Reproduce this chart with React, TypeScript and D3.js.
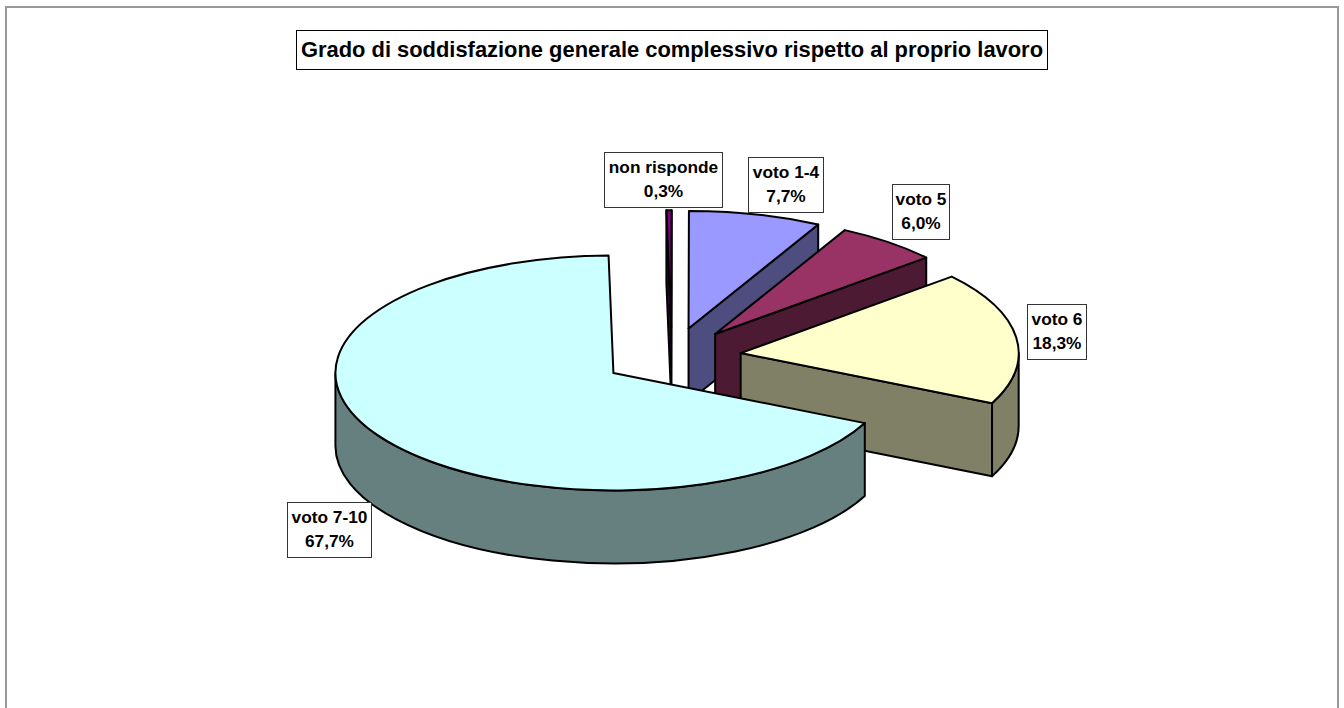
import React, { useEffect, useRef } from 'react';
import * as d3 from 'd3';

const title = 'Grado di soddisfazione generale complessivo rispetto al proprio lavoro';
const categories = ['non risponde', 'voto 1-4', 'voto 5', 'voto 6', 'voto 7-10'];
const percentages = [0.3, 7.7, 6.0, 18.3, 67.7];
const topColors = ['#800080', '#9999FF', '#993366', '#FFFFCC', '#CCFFFF'];
const sideColors = ['#400040', '#4D4D80', '#4D1A33', '#808066', '#668080'];

// label boxes: left, top, width
const labelBoxes = [
  [604, 152, 118],
  [748, 157, 75],
  [892, 184, 57],
  [1027, 304, 59],
  [287, 502, 84],
];
const labelHeight = 55;

const width = 1344;
const height = 708;
const cx = 671.8;
const cy = 357;
const rx = 278;
const ry = 117.5;
const depth = 73;
const explode = 0.25;
const firstAngle = (-1.0 * Math.PI) / 180;

function point(x: number, y: number, a: number, dy = 0) {
  return [x + rx * Math.sin(a), y - ry * Math.cos(a) + dy];
}

function arcTo(x: number, y: number, a0: number, a1: number, dy = 0, sweep = 1) {
  const [ex, ey] = point(x, y, a1, dy);
  const large = Math.abs(a1 - a0) > Math.PI ? 1 : 0;
  return `A${rx},${ry} 0 ${large} ${sweep} ${ex},${ey}`;
}

export default function App() {
  const ref = useRef<SVGSVGElement>(null);

  useEffect(() => {
    const svg = d3.select(ref.current);
    svg.selectAll('*').remove();

    svg.append('rect')
      .attr('x', 6).attr('y', 7)
      .attr('width', 1332).attr('height', 730)
      .attr('fill', '#fff')
      .attr('stroke', '#999').attr('stroke-width', 2);

    const pie = d3.pie<number>().sort(null)
      .startAngle(firstAngle)
      .endAngle(firstAngle + 2 * Math.PI);
    const slices = pie(percentages);

    slices.forEach((d, i) => {
      const mid = (d.startAngle + d.endAngle) / 2;
      const x = cx + explode * rx * Math.sin(mid);
      const y = cy - explode * ry * Math.cos(mid);
      const g = svg.append('g')
        .attr('stroke', '#000').attr('stroke-width', 2).attr('stroke-linejoin', 'round');

      // cut face at the clockwise end of the slice, only when it looks towards us
      const endNorm = ((d.endAngle % (2 * Math.PI)) + 2 * Math.PI) % (2 * Math.PI);
      if (endNorm < Math.PI) {
        const [ex, ey] = point(x, y, d.endAngle);
        g.append('path')
          .attr('d', `M${x},${y}L${ex},${ey}L${ex},${ey + depth}L${x},${y + depth}Z`)
          .attr('fill', sideColors[i]);
      }
      // the thin slice shows its other cut face too
      if (i === 0) {
        const [sx, sy] = point(x, y, d.startAngle);
        g.append('path')
          .attr('d', `M${x},${y}L${sx},${sy}L${sx},${sy + depth}L${x},${y + depth}Z`)
          .attr('fill', sideColors[i]);
      }

      // outer wall, the front half of the ellipse only
      const a0 = Math.max(d.startAngle, Math.PI / 2);
      const a1 = Math.min(d.endAngle, (3 * Math.PI) / 2);
      if (a1 > a0) {
        const [p0x, p0y] = point(x, y, a0);
        const [p1x, p1y] = point(x, y, a1);
        g.append('path')
          .attr('d', `M${p0x},${p0y}${arcTo(x, y, a0, a1)}L${p1x},${p1y + depth}${arcTo(x, y, a1, a0, depth, 0)}Z`)
          .attr('fill', sideColors[i]);
      }

      // top face
      const [sx, sy] = point(x, y, d.startAngle);
      g.append('path')
        .attr('d', `M${x},${y}L${sx},${sy}${arcTo(x, y, d.startAngle, d.endAngle)}Z`)
        .attr('fill', topColors[i]);
    });

    // title
    svg.append('rect')
      .attr('x', 296.5).attr('y', 30.5)
      .attr('width', 751).attr('height', 39)
      .attr('fill', '#fff').attr('stroke', '#000').attr('stroke-width', 1);
    svg.append('text')
      .attr('x', 672).attr('y', 57)
      .attr('text-anchor', 'middle')
      .attr('font-family', '"Liberation Sans", Arial, sans-serif')
      .attr('font-weight', 'bold').attr('font-size', 21.9)
      .attr('fill', '#000')
      .text(title);

    // data labels
    const labels = svg.append('g')
      .attr('font-family', '"Liberation Sans", Arial, sans-serif')
      .attr('font-weight', 'bold').attr('font-size', 17.3)
      .attr('text-anchor', 'middle').attr('fill', '#000');
    categories.forEach((name, i) => {
      const [left, top, w] = labelBoxes[i];
      labels.append('rect')
        .attr('x', left + 0.5).attr('y', top + 0.5)
        .attr('width', w).attr('height', labelHeight)
        .attr('fill', '#fff').attr('stroke', '#333').attr('stroke-width', 1);
      labels.append('text')
        .attr('x', left + w / 2 + 0.5).attr('y', top + 21)
        .text(name);
      labels.append('text')
        .attr('x', left + w / 2 + 0.5).attr('y', top + 45)
        .text(percentages[i].toFixed(1).replace('.', ',') + '%');
    });
  }, []);

  return (
    <svg
      ref={ref}
      width={width}
      height={height}
      style={{ position: 'absolute', left: 0, top: 0, display: 'block' }}
    />
  );
}
